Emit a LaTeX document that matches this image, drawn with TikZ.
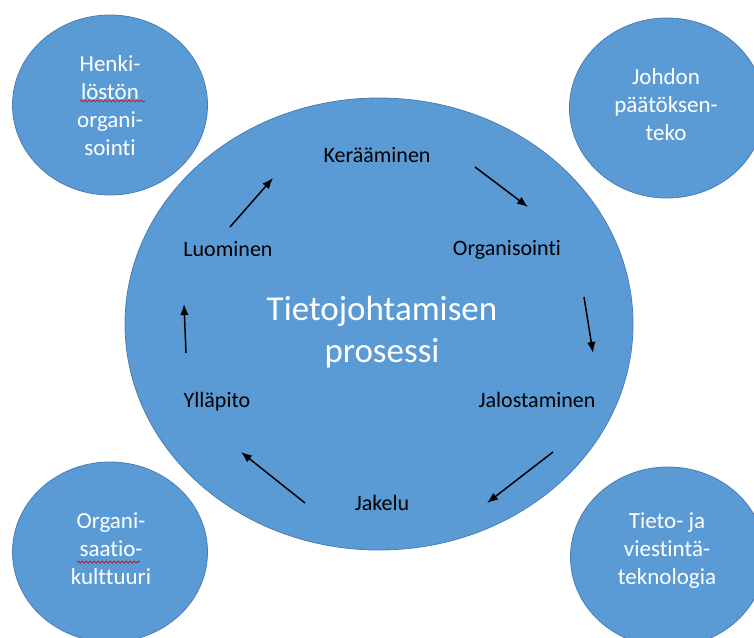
\documentclass[tikz,border=0pt]{standalone}
\usepackage{fontspec}
\setmainfont{Carlito}[RawFeature={-liga;-clig;-calt;-dlig}]
\usetikzlibrary{shapes.geometric,arrows.meta,decorations.pathmorphing}
\definecolor{blobfill}{HTML}{5B9BD5}
\definecolor{blobline}{HTML}{4A7DB5}
% separate t and i so that no ligature forms
\newcommand{\tisep}{\kern0pt}
\begin{document}
\begin{tikzpicture}[x=1pt,y=-1pt,
  blob/.style={ellipse, fill=blobfill, draw=blobline, line width=0.8pt, inner sep=0pt},
  sideblob/.style={blob, minimum width=195pt, minimum height=180pt},
  sidetext/.style={text=white, align=center, inner sep=0pt, font=\fontsize{23}{28}\selectfont},
  stagetext/.style={text=black, anchor=base, inner sep=0pt, font=\fontsize{22}{26}\selectfont},
  titletext/.style={text=white, anchor=base, inner sep=0pt, font=\fontsize{35}{42}\selectfont},
  flow/.style={-{Latex[length=11pt,width=8.5pt]}, line width=1.5pt, black},
  squiggle/.style={red!85!black, line width=0.7pt, decorate,
    decoration={snake, amplitude=1pt, segment length=4pt}}]
\useasboundingbox (0,0) rectangle (754,637);

% the four surrounding factors
\node[sideblob] (hr) at (110,105) {};
\node[sideblob] (mgmt) at (667,108) {};
\node[sideblob] (culture) at (110,552) {};
\node[sideblob] (ict) at (668,557) {};

\node[sidetext] (hrtext) at (110,106) {Henki-\\löstön\\organi-\\soint\tisep i};
\node[sidetext] (mgmttext) at (666,105) {Johdon\\päätöksen-\\teko};
\node[sidetext] (culturetext) at (111,549) {Organi-\\saatio-\\kulttuuri};
\node[sidetext] (icttext) at (667,551) {Tieto- ja\\viestintä-\\teknologia};

% spell-check marks
\draw[squiggle] (80,101) -- (145,101);
\draw[squiggle] (77,562) -- (140,562);

% central process
\node[blob, minimum width=508pt, minimum height=452pt] (hub) at (379,324) {};
\node[titletext] (title1) at (382,320) {Tietojohtamisen};
\node[titletext] (title2) at (382,362) {prosessi};

\node[stagetext] (collect) at (377,162) {Kerääminen};
\node[stagetext] (organize) at (507,255) {Organisoint\tisep i};
\node[stagetext] (refine) at (537,407) {Jalostaminen};
\node[stagetext] (distribute) at (382,510) {Jakelu};
\node[stagetext] (maintain) at (217,407) {Ylläpito};
\node[stagetext] (create) at (228,256) {Luominen};

% arrow ends of the cycle
\coordinate (f1a) at (475,167); \coordinate (f1b) at (528,207);
\coordinate (f2a) at (584,297); \coordinate (f2b) at (593,353);
\coordinate (f3a) at (553,452); \coordinate (f3b) at (487,503);
\coordinate (f4a) at (305,503); \coordinate (f4b) at (241,452);
\coordinate (f5a) at (186,353); \coordinate (f5b) at (184,304);
\coordinate (f6a) at (230,227); \coordinate (f6b) at (273,178);

\draw[flow] (f1a) -- (f1b);
\draw[flow] (f2a) -- (f2b);
\draw[flow] (f3a) -- (f3b);
\draw[flow] (f4a) -- (f4b);
\draw[flow] (f5a) -- (f5b);
\draw[flow] (f6a) -- (f6b);
\end{tikzpicture}
\end{document}
